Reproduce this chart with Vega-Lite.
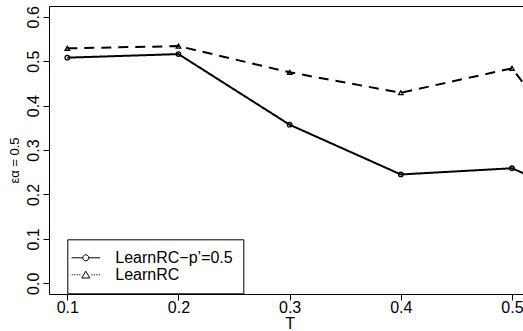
{
  "$schema": "https://vega.github.io/schema/vega-lite/v6.json",
  "width": 474.5,
  "height": 288,
  "autosize": {"type": "none"},
  "padding": {"left": 49, "top": 6, "right": 0, "bottom": 37},
  "background": "white",
  "config": {
    "view": {"stroke": "black", "strokeWidth": 1},
    "font": "Liberation Sans",
    "axis": {
      "grid": false,
      "domain": false,
      "tickColor": "black",
      "tickSize": 6,
      "labelColor": "black",
      "titleColor": "black",
      "labelFontSize": 16,
      "labelFont": "Liberation Sans",
      "titleFont": "Liberation Sans",
      "titleFontWeight": "normal",
      "labelFlush": false,
      "labelOverlap": false
    }
  },
  "data": {
    "values": [
      {"series": "LearnRC−p’=0.5", "T": 0.1, "eps": 0.508},
      {"series": "LearnRC−p’=0.5", "T": 0.2, "eps": 0.516},
      {"series": "LearnRC−p’=0.5", "T": 0.3, "eps": 0.357},
      {"series": "LearnRC−p’=0.5", "T": 0.4, "eps": 0.245},
      {"series": "LearnRC−p’=0.5", "T": 0.5, "eps": 0.259},
      {"series": "LearnRC−p’=0.5", "T": 0.6, "eps": 0.15},
      {"series": "LearnRC", "T": 0.1, "eps": 0.529},
      {"series": "LearnRC", "T": 0.2, "eps": 0.534},
      {"series": "LearnRC", "T": 0.3, "eps": 0.475},
      {"series": "LearnRC", "T": 0.4, "eps": 0.429},
      {"series": "LearnRC", "T": 0.5, "eps": 0.484},
      {"series": "LearnRC", "T": 0.6, "eps": 0.16}
    ]
  },
  "encoding": {
    "x": {
      "field": "T",
      "type": "quantitative",
      "scale": {"domain": [0.08354, 0.51035], "nice": false, "zero": false},
      "axis": {
        "values": [0.1, 0.2, 0.3, 0.4, 0.5],
        "format": ".1f",
        "labelBaseline": "alphabetic",
        "labelPadding": 12,
        "title": "T",
        "titleFontSize": 16,
        "titleBaseline": "alphabetic",
        "titleAlign": "center",
        "titleX": 240.7,
        "titleY": 34.5
      }
    },
    "y": {
      "field": "eps",
      "type": "quantitative",
      "scale": {"domain": [-0.0241, 0.6243], "nice": false, "zero": false},
      "axis": {
        "values": [0, 0.1, 0.2, 0.3, 0.4, 0.5, 0.6],
        "format": ".1f",
        "labelAngle": 270,
        "labelAlign": "center",
        "labelBaseline": "alphabetic",
        "labelPadding": 4.5,
        "title": "εα = 0.5",
        "titleFontSize": 13,
        "titleAngle": 270,
        "titleAlign": "center",
        "titleBaseline": "alphabetic",
        "titleX": -30.5,
        "titleY": 154
      }
    }
  },
  "layer": [
    {
      "transform": [{"filter": "datum.T > 0.55"}],
      "mark": {"type": "point", "clip": true, "filled": false, "color": "black", "strokeWidth": 1, "opacity": 1, "size": 256},
      "encoding": {
        "shape": {
          "field": "series",
          "type": "nominal",
          "scale": {
            "domain": ["LearnRC−p’=0.5", "LearnRC"],
            "range": [
              "M-1.77,0L-0.375,0M0.375,0L1.77,0M0.375,0A0.375,0.375 0 1,1 -0.375,0A0.375,0.375 0 1,1 0.375,0",
              "M-1.77,0L-1.62,0M-1.46,0L-1.31,0M-1.15,0L-1,0M-0.84,0L-0.69,0M0.69,0L0.84,0M1,0L1.15,0M1.31,0L1.46,0M1.62,0L1.77,0M0,-0.45L0.5,0.4L-0.5,0.4Z"
            ]
          },
          "legend": {
            "orient": "none",
            "legendX": 18.3,
            "legendY": 233.3,
            "title": null,
            "strokeColor": "black",
            "fillColor": "white",
            "padding": 10,
            "labelFontSize": 16,
            "labelFont": "Liberation Sans",
            "labelColor": "black",
            "labelOffset": 21,
            "labelLimit": 400,
            "rowPadding": 0,
            "symbolSize": 256,
            "symbolStrokeColor": "black",
            "symbolStrokeWidth": 1
          }
        }
      }
    },
    {
      "mark": {"type": "line", "clip": true, "strokeWidth": 2, "color": "black"},
      "encoding": {
        "detail": {"field": "series", "type": "nominal"},
        "strokeDash": {
          "condition": {"test": "datum.series === 'LearnRC'", "value": [10, 7]},
          "value": [1, 0]
        }
      }
    },
    {
      "mark": {"type": "point", "clip": true, "filled": false, "color": "black", "strokeWidth": 1.3, "opacity": 1, "size": 20},
      "encoding": {
        "shape": {
          "condition": {"test": "datum.series === 'LearnRC'", "value": "triangle-up"},
          "value": "circle"
        }
      }
    }
  ]
}
